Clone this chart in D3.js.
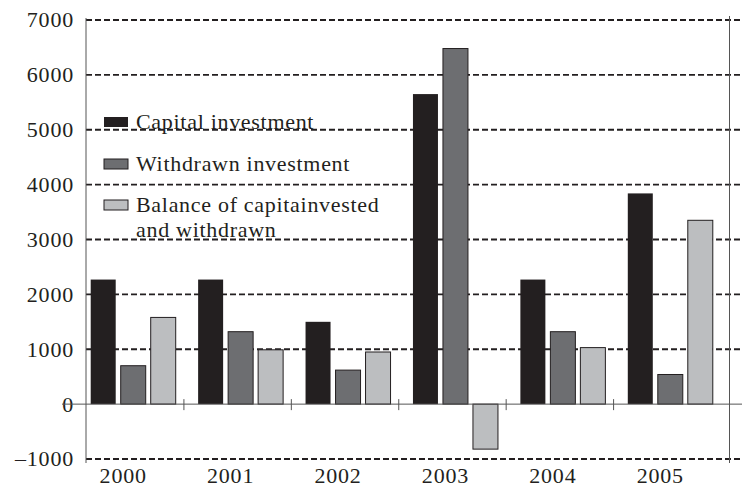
<!DOCTYPE html>
<html>
<head>
<meta charset="utf-8">
<script src="https://cdn.jsdelivr.net/npm/d3@7"></script>
<style>
  body { margin: 0; background: #fff; }
</style>
</head>
<body>
<script>
var years = ["2000", "2001", "2002", "2003", "2004", "2005"];
var seriesNames = ["Capital investment", "Withdrawn investment", "Balance of capitainvested"];
var capital = [2270, 2270, 1500, 5650, 2270, 3840];
var withdrawn = [700, 1320, 620, 6480, 1320, 540];
var balance = [1580, 990, 950, -820, 1030, 3350];
var yTicks = [-1000, 0, 1000, 2000, 3000, 4000, 5000, 6000, 7000];

var series = [capital, withdrawn, balance];
var colors = ["#231f20", "#6d6e71", "#bcbec0"];
var font = "'Liberation Serif', 'DejaVu Serif', serif";

var width = 742, height = 488;

var svg = d3.select("body").append("svg")
    .attr("width", width)
    .attr("height", height)
    .attr("font-family", font);

var x0 = d3.scaleBand()
    .domain(years)
    .range([79.5, 724]);

var x1 = d3.scaleBand()
    .domain(d3.range(3))
    .range([0, 85])
    .paddingInner(1 / 6);

var groupOff = (x0.bandwidth() - 85) / 2;

var y = d3.scaleLinear()
    .domain([-1000, 7000])
    .range([459, 20]);

// dashed gridlines
svg.selectAll(".grid")
    .data(yTicks.filter((d) => d !== 0))
    .enter()
    .append("line")
    .attr("x1", 86)
    .attr("x2", width)
    .attr("y1", (d) => y(d))
    .attr("y2", (d) => y(d))
    .attr("stroke", "#231f20")
    .attr("stroke-width", 1.8)
    .attr("stroke-dasharray", "6,3");

// y tick labels
svg.selectAll(".ylab")
    .data(yTicks)
    .enter()
    .append("text")
    .attr("x", 74)
    .attr("y", (d) => y(d))
    .attr("dy", "0.34em")
    .attr("text-anchor", "end")
    .attr("font-size", "22px")
    .attr("letter-spacing", "0.8px")
    .attr("fill", "#231f20")
    .text((d) => d < 0 ? "\u2013" + Math.abs(d) : d);

// bars
var groups = svg.selectAll(".grp")
    .data(years)
    .enter()
    .append("g")
    .attr("transform", (d) => `translate(${x0(d) + groupOff},0)`);

groups.selectAll("rect")
    .data((d, i) => series.map((s, k) => ({ k: k, v: s[i] })))
    .enter()
    .append("rect")
    .attr("x", (d) => x1(d.k))
    .attr("y", (d) => y(Math.max(0, d.v)))
    .attr("width", x1.bandwidth())
    .attr("height", (d) => Math.abs(y(d.v) - y(0)))
    .attr("fill", (d) => colors[d.k])
    .attr("stroke", (d) => d.k === 0 ? "none" : "#231f20")
    .attr("stroke-width", 1);

// zero line
svg.append("line")
    .attr("x1", 62).attr("x2", width)
    .attr("y1", y(0)).attr("y2", y(0))
    .attr("stroke", "#555").attr("stroke-width", 1);

// category boundary ticks
svg.selectAll(".btick")
    .data(years.slice(1))
    .enter()
    .append("line")
    .attr("x1", (d) => x0(d) - 3)
    .attr("x2", (d) => x0(d) - 3)
    .attr("y1", y(0) - 5)
    .attr("y2", y(0) + 6)
    .attr("stroke", "#555");

// left axis and right border
svg.append("line")
    .attr("x1", 86).attr("x2", 86)
    .attr("y1", 18).attr("y2", 463)
    .attr("stroke", "#555");
svg.append("line")
    .attr("x1", 729.5).attr("x2", 729.5)
    .attr("y1", 16).attr("y2", 463)
    .attr("stroke", "#555");

// x labels
svg.selectAll(".xlab")
    .data(years)
    .enter()
    .append("text")
    .attr("x", (d) => x0(d) + x0.bandwidth() / 2 - 10)
    .attr("y", 483)
    .attr("text-anchor", "middle")
    .attr("font-size", "22px")
    .attr("letter-spacing", "0.8px")
    .attr("fill", "#231f20")
    .text((d) => d);

// legend
var legY = [117, 159, 200];
var leg = svg.selectAll(".leg")
    .data(seriesNames)
    .enter()
    .append("g")
    .attr("transform", (d, i) => `translate(104,${legY[i]})`);

leg.append("rect")
    .attr("width", 24)
    .attr("height", 10)
    .attr("fill", (d, i) => colors[i])
    .attr("stroke", (d, i) => i === 0 ? "none" : "#231f20");

leg.append("text")
    .attr("x", 32)
    .attr("y", 11.5)
    .attr("font-size", "22px")
    .attr("letter-spacing", "0.7px")
    .attr("fill", "#231f20")
    .text((d) => d);

svg.append("text")
    .attr("x", 136)
    .attr("y", 237)
    .attr("font-size", "22px")
    .attr("letter-spacing", "0.7px")
    .attr("fill", "#231f20")
    .text("and withdrawn");
</script>
</body>
</html>
